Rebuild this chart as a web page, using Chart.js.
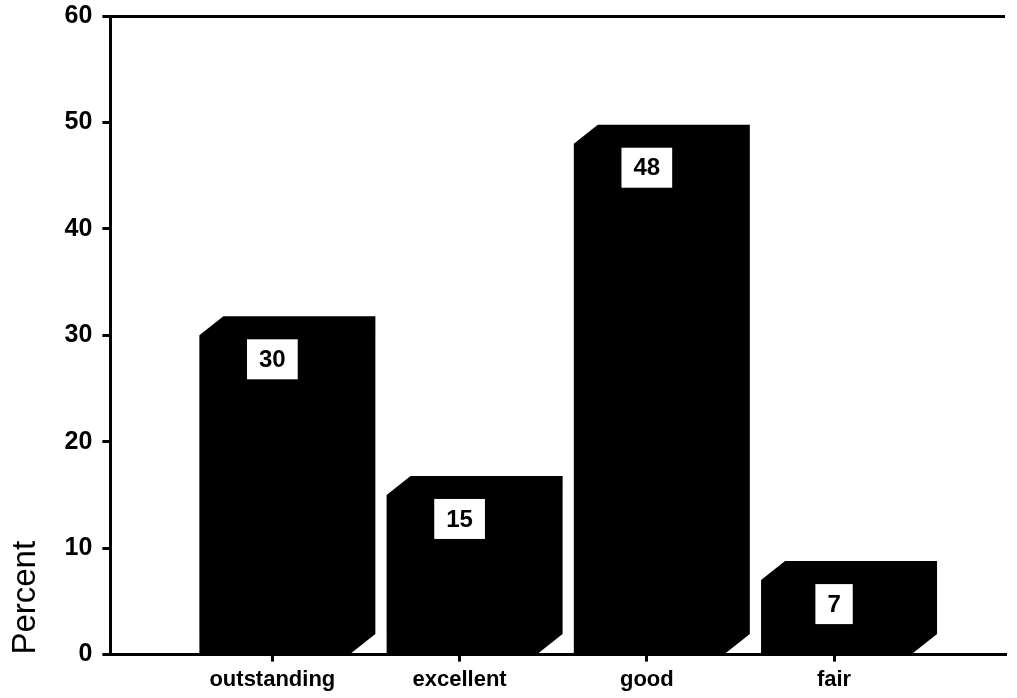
<!DOCTYPE html>
<html>
<head>
<meta charset="utf-8">
<script src="https://cdn.jsdelivr.net/npm/chart.js@4"></script>
<style>
  html, body { margin: 0; padding: 0; background: #fff; }
  #wrap { width: 1017px; height: 698px; }
</style>
</head>
<body>
<div id="wrap"><canvas id="c" width="1017" height="698"></canvas></div>
<script>
const categories = ['outstanding', 'excellent', 'good', 'fair'];
const percentValues = [30, 15, 48, 7];
const yTicks = [0, 10, 20, 30, 40, 50, 60];
const yAxisTitle = 'Percent';

const FONT = '"Liberation Sans", Arial, Helvetica, sans-serif';
const DEPTH_X = 24, DEPTH_Y = 19;

const boxBars = {
  id: 'boxBars',
  beforeDatasetsDraw(chart) {
    const ctx = chart.ctx;
    chart.getDatasetMeta(0).data.forEach(el => {
      const p = el.getProps(['x', 'y', 'base', 'width'], true);
      const left = p.x - p.width / 2 + 3, right = p.x + p.width / 2 + 3;
      ctx.save();
      ctx.fillStyle = '#000';
      ctx.beginPath();
      ctx.moveTo(left, p.base);
      ctx.lineTo(left, p.y);
      ctx.lineTo(left + DEPTH_X, p.y - DEPTH_Y);
      ctx.lineTo(right + DEPTH_X, p.y - DEPTH_Y);
      ctx.lineTo(right + DEPTH_X, p.base - DEPTH_Y);
      ctx.lineTo(right, p.base);
      ctx.closePath();
      ctx.fill();
      ctx.restore();
    });
  },
  afterDatasetsDraw(chart) {
    const ctx = chart.ctx;
    const vals = chart.data.datasets[0].data;
    chart.getDatasetMeta(0).data.forEach((el, i) => {
      const p = el.getProps(['x', 'y'], true);
      const txt = String(vals[i].y);
      ctx.save();
      ctx.font = 'bold 24px ' + FONT;
      const tw = ctx.measureText(txt).width;
      const bw = tw + 24, bh = 40;
      const top = p.y + 4;
      ctx.fillStyle = '#fff';
      ctx.fillRect(p.x - bw / 2, top, bw, bh);
      ctx.fillStyle = '#000';
      ctx.textAlign = 'center';
      ctx.textBaseline = 'middle';
      ctx.fillText(txt, p.x, top + bh / 2 + 1);
      ctx.restore();
    });
  }
};

new Chart(document.getElementById('c'), {
  type: 'bar',
  data: {
    datasets: [{
      data: percentValues.map((v, i) => ({ x: i, y: v })),
      backgroundColor: 'rgba(0,0,0,0)',
      borderWidth: 0,
      barThickness: 152
    }]
  },
  options: {
    responsive: false,
    animation: false,
    events: [],
    layout: { padding: { top: 0, right: 12, bottom: 0, left: 0 } },
    plugins: { legend: { display: false }, tooltip: { enabled: false } },
    scales: {
      x: {
        type: 'linear',
        offset: false,
        min: -0.865,
        max: 3.913,
        afterBuildTicks(scale) { scale.ticks = categories.map((c, i) => ({ value: i })); },
        ticks: {
          autoSkip: false,
          maxRotation: 0,
          padding: 5,
          color: '#000',
          font: { family: FONT, size: 22, weight: 'bold' },
          callback: (v) => categories[v]
        },
        grid: { offset: false, drawOnChartArea: false, tickLength: 7, tickColor: '#000', lineWidth: 3 },
        border: { display: true, color: '#000', width: 3 }
      },
      y: {
        min: 0,
        max: 60,
        afterBuildTicks(scale) { scale.ticks = yTicks.map(v => ({ value: v })); },
        afterFit(scale) { scale.paddingTop = 16; scale.paddingBottom = 0; },
        ticks: {
          padding: 10,
          color: '#000',
          font: { family: FONT, size: 25, weight: 'bold' }
        },
        grid: {
          drawOnChartArea: true,
          color: (c) => (c.tick && c.tick.value === 60) ? '#000' : 'rgba(0,0,0,0)',
          tickColor: '#000',
          tickLength: 8,
          lineWidth: 3
        },
        border: { display: true, color: '#000', width: 3 },
        title: {
          display: true,
          text: yAxisTitle,
          align: 'start',
          color: '#000',
          padding: { top: 6, bottom: 9 },
          font: { family: FONT, size: 33, weight: 'normal' }
        }
      }
    }
  },
  plugins: [boxBars]
});
</script>
</body>
</html>
